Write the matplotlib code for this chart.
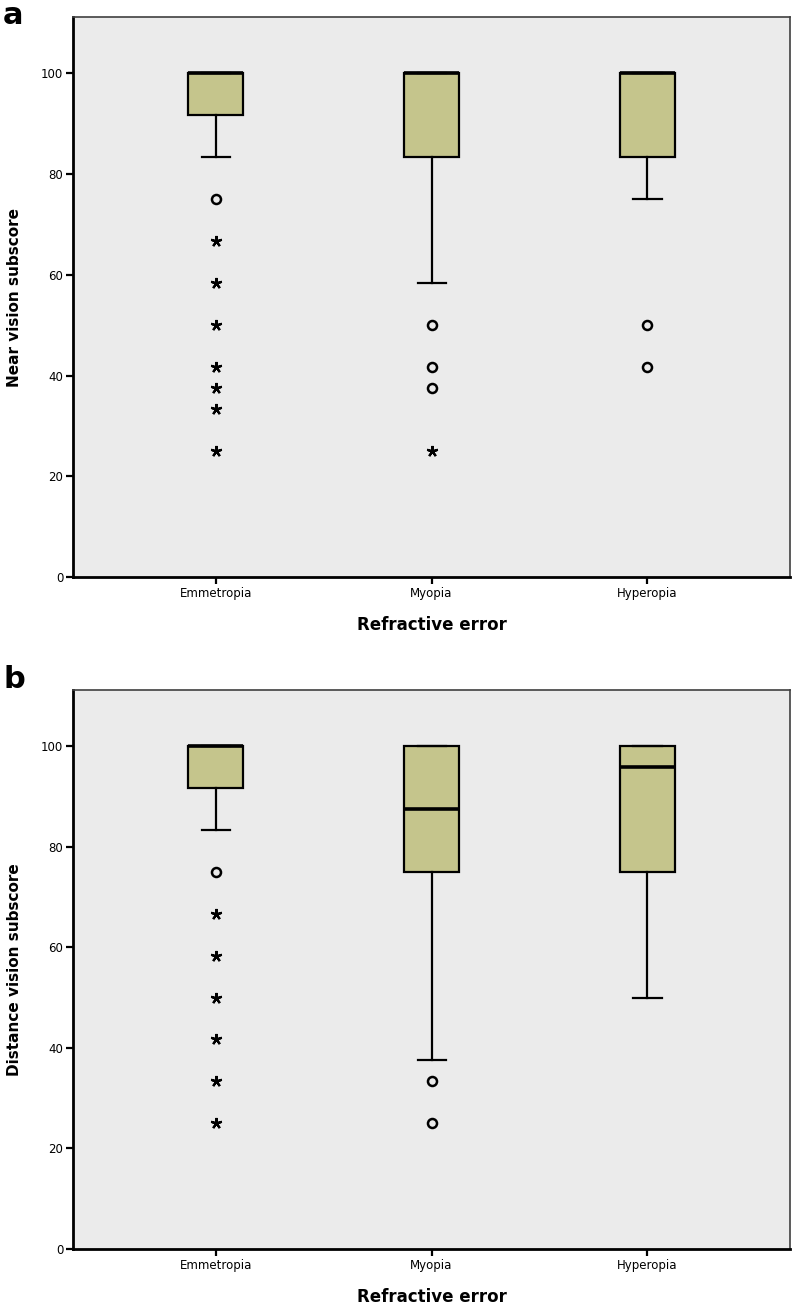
import matplotlib.pyplot as plt
import numpy as np

groups = ['Emmetropia', 'Myopia', 'Hyperopia']

# panel a: near vision subscore
near_q1 = [91.67, 83.33, 83.33]
near_med = [100, 100, 100]
near_q3 = [100, 100, 100]
near_wlo = [83.33, 58.33, 75]
near_whi = [100, 100, 100]
near_circles = [[75], [50, 41.67, 37.5], [50, 41.67]]
near_stars = [[66.67, 58.33, 50, 41.67, 37.5, 33.33, 25], [25], []]

# panel b: distance vision subscore
dist_q1 = [91.67, 75, 75]
dist_med = [100, 87.5, 95.83]
dist_q3 = [100, 100, 100]
dist_wlo = [83.33, 37.5, 50]
dist_whi = [100, 100, 100]
dist_circles = [[75], [33.33, 25], []]
dist_stars = [[66.67, 58.33, 50, 41.67, 33.33, 25], [], []]

BOX_COLOR = '#c5c58c'
BG = '#ebebeb'


def draw_panel(ax, q1, med, q3, wlo, whi, circles, stars, ylabel):
    stats = []
    for i, g in enumerate(groups):
        stats.append(dict(label=g, q1=q1[i], med=med[i], q3=q3[i],
                          whislo=wlo[i], whishi=whi[i], fliers=[]))
    pos = np.arange(1, len(groups) + 1)
    ax.bxp(stats, positions=pos, widths=0.255, patch_artist=True,
           showfliers=False,
           boxprops=dict(facecolor=BOX_COLOR, edgecolor='black', linewidth=1.6),
           medianprops=dict(color='black', linewidth=2.6, solid_capstyle='butt'),
           whiskerprops=dict(color='black', linewidth=1.6),
           capprops=dict(color='black', linewidth=1.6),
           capwidths=0.13)
    for i, p in enumerate(pos):
        if circles[i]:
            ax.plot([p] * len(circles[i]), circles[i], linestyle='none', marker='o',
                    markersize=6.5, markerfacecolor=BG, markeredgecolor='black',
                    markeredgewidth=1.8, zorder=4)
        if stars[i]:
            ax.plot([p] * len(stars[i]), stars[i], linestyle='none', marker=(5, 2, 0),
                    markersize=8, color='black', markeredgewidth=1.6, zorder=4)

    ax.set_facecolor(BG)
    ax.set_xlim(0.34, 3.66)
    ax.set_ylim(0, 111.2)
    ax.set_yticks([0, 20, 40, 60, 80, 100])
    ax.set_xticks(pos)
    ax.set_xticklabels(groups)
    ax.tick_params(axis='both', labelsize=8.5, width=1.6, length=5, direction='out', pad=2)
    for s in ['left', 'bottom']:
        ax.spines[s].set_linewidth(2)
        ax.spines[s].set_color('black')
    for s in ['top', 'right']:
        ax.spines[s].set_linewidth(1.2)
        ax.spines[s].set_color('#404040')
    ax.set_ylabel(ylabel, fontsize=11, fontweight='bold', labelpad=14)
    ax.set_xlabel('Refractive error', fontsize=12, fontweight='bold', labelpad=12)


fig = plt.figure(figsize=(7.94, 13.10), dpi=100)
ax_a = fig.add_axes([0.092, 0.5595, 0.903, 0.4275])
ax_b = fig.add_axes([0.092, 0.0466, 0.903, 0.4267])

draw_panel(ax_a, near_q1, near_med, near_q3, near_wlo, near_whi,
           near_circles, near_stars, 'Near vision subscore')
draw_panel(ax_b, dist_q1, dist_med, dist_q3, dist_wlo, dist_whi,
           dist_circles, dist_stars, 'Distance vision subscore')

fig.text(0.004, 0.988, 'a', fontsize=22, fontweight='bold', va='center', ha='left')
fig.text(0.004, 0.481, 'b', fontsize=22, fontweight='bold', va='center', ha='left')

fig.savefig('out.png', dpi=100)
